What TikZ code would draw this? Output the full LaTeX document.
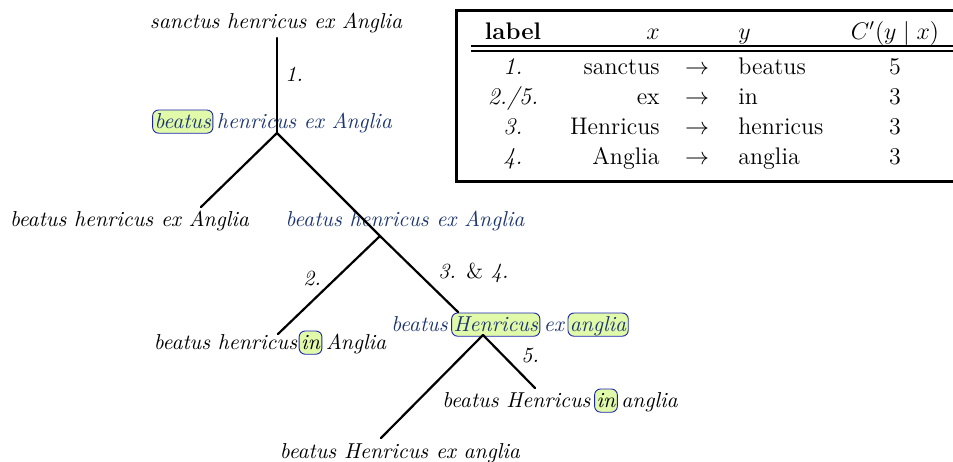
\documentclass[tikz,border=0pt]{standalone}
\usepackage{amsmath}
\definecolor{tblue}{RGB}{30,55,115}
\definecolor{hlfill}{RGB}{225,250,170}
\definecolor{hlline}{RGB}{25,35,170}
\tikzset{
  sent/.style={font=\fontsize{10.8}{13}\selectfont\itshape, inner sep=0pt, anchor=base},
  bluesent/.style={sent, text=tblue},
  edgeline/.style={line width=1.1pt, line cap=round},
  elabel/.style={font=\fontsize{10.8}{13}\selectfont\itshape, inner sep=0pt, anchor=base west},
  hlbox/.style={draw=hlline, fill=hlfill, rounded corners=3pt, inner xsep=1pt, inner ysep=0.6pt,
    text height=8.4pt, text depth=2pt, line width=0.45pt},
  tcell/.style={font=\fontsize{12}{14}\selectfont, inner sep=0pt, anchor=base},
  tright/.style={tcell, anchor=base east},
  tleft/.style={tcell, anchor=base west},
}
\newcommand{\hlw}[2]{\tikz[baseline=(#1.base)]\node[hlbox](#1){#2};}
\newcommand{\gp}{\hspace{1.8pt}}
\begin{document}
\begin{tikzpicture}[x=0.5pt,y=-0.5pt]
\useasboundingbox (0,0) rectangle (953,461);
% ---------- tree ----------
\node[sent] (s0) at (276,28) {sanctus henricus ex Anglia};
\node[bluesent] (s1) at (272,128) {\hlw{hA}{beatus}\gp henricus ex Anglia};
\node[sent] (s2) at (129.5,226) {beatus henricus ex Anglia};
\node[bluesent] (s3) at (405,226) {beatus henricus ex Anglia};
\node[sent] (s4) at (270,349) {beatus henricus\hspace{0.8pt}\hlw{hB}{in}\gp Anglia};
\node[bluesent] (s5) at (510,331) {beatus\gp\hlw{hC}{Henricus}\gp ex\gp\hlw{hD}{anglia}};
\node[sent] (s6) at (560,407) {beatus Henricus\gp\hlw{hE}{in}\gp anglia};
\node[sent] (s7) at (400,458) {beatus Henricus ex anglia};

\coordinate (c0) at (277,38);
\coordinate (b1) at (277,133);
\coordinate (e2) at (201,207);
\coordinate (b2) at (380,236);
\coordinate (e3) at (458,312);
\coordinate (e4) at (278,334);
\coordinate (b3) at (483,335);
\coordinate (e6) at (535,388);
\coordinate (e7) at (381,438);

\draw[edgeline] (c0) -- (b1);
\draw[edgeline] (b1) -- (e2);
\draw[edgeline] (b1) -- (b2) -- (e3);
\draw[edgeline] (b2) -- (e4);
\draw[edgeline] (b3) -- (e6);
\draw[edgeline] (b3) -- (e7);

\node[elabel] (l1) at (285,81) {1.};
\node[elabel] (l2) at (303,285) {2.};
\node[elabel] (l34) at (438,278) {3. \textup{\&} 4.};
\node[elabel] (l5) at (521,362) {5.};

% ---------- table ----------
\draw[line width=1.5pt] (456,10) rectangle (975,181);
\draw[line width=0.7pt] (471,46) -- (975,46);
\draw[line width=0.7pt] (471,51) -- (975,51);

\node[tcell] (hl) at (513,39) {\textbf{label}};
\node[tright] (hx) at (660,39) {$x$};
\node[tleft] (hy) at (738,39) {$y$};
\node[tcell] (hc) at (895,39) {$C'(y\mid x)$};

\node[tcell] (r1a) at (513,74) {\textit{1.}};
\node[tright] (r1b) at (660,74) {sanctus};
\node[tcell] (r1c) at (697,74) {$\rightarrow$};
\node[tleft] (r1d) at (738,74) {beatus};
\node[tcell] (r1e) at (895,74) {5};

\node[tcell] (r2a) at (513,104) {\textit{2./5.}};
\node[tright] (r2b) at (660,104) {ex};
\node[tcell] (r2c) at (697,104) {$\rightarrow$};
\node[tleft] (r2d) at (738,104) {in};
\node[tcell] (r2e) at (895,104) {3};

\node[tcell] (r3a) at (513,134) {\textit{3.}};
\node[tright] (r3b) at (660,134) {Henricus};
\node[tcell] (r3c) at (697,134) {$\rightarrow$};
\node[tleft] (r3d) at (738,134) {henricus};
\node[tcell] (r3e) at (895,134) {3};

\node[tcell] (r4a) at (513,164) {\textit{4.}};
\node[tright] (r4b) at (660,164) {Anglia};
\node[tcell] (r4c) at (697,164) {$\rightarrow$};
\node[tleft] (r4d) at (738,164) {anglia};
\node[tcell] (r4e) at (895,164) {3};
\end{tikzpicture}
\end{document}
